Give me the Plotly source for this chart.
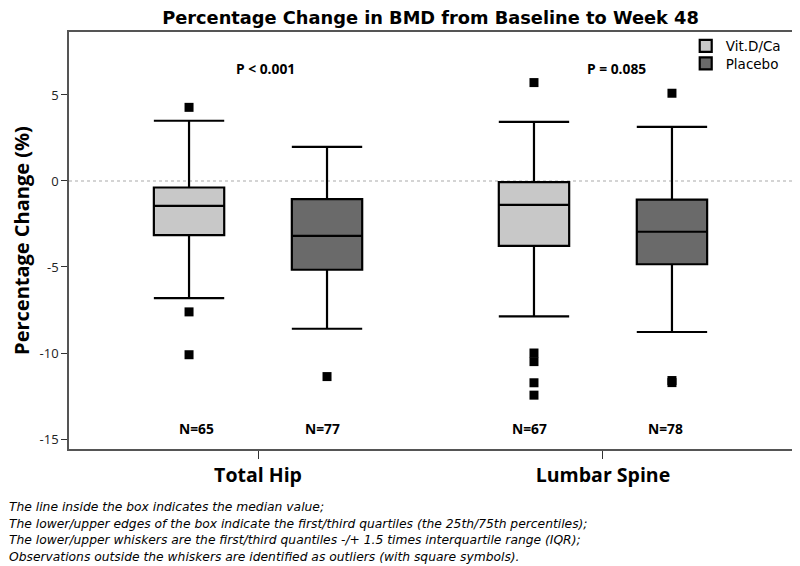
import plotly.graph_objects as go

# ---- data ----
sites = ["Total Hip", "Lumbar Spine"]
groups = ["Vit.D/Ca", "Placebo"]

vit_q1 = [-3.15, -3.77]
vit_median = [-1.45, -1.39]
vit_q3 = [-0.38, -0.07]
vit_lower = [-6.81, -7.87]
vit_upper = [3.50, 3.44]

pla_q1 = [-5.16, -4.84]
pla_median = [-3.19, -2.95]
pla_q3 = [-1.06, -1.08]
pla_lower = [-8.59, -8.78]
pla_upper = [1.98, 3.15]

vit_out_site = ["Total Hip", "Total Hip", "Total Hip",
                "Lumbar Spine", "Lumbar Spine", "Lumbar Spine", "Lumbar Spine", "Lumbar Spine"]
vit_out_val = [4.28, -7.61, -10.1, 5.72, -10.0, -10.5, -11.73, -12.45]
pla_out_site = ["Total Hip", "Lumbar Spine", "Lumbar Spine", "Lumbar Spine"]
pla_out_val = [-11.37, 5.10, -11.6, -11.72]

n_vit = [65, 67]
n_pla = [77, 78]
p_values = ["P < 0.001", "P = 0.085"]

tick_vals = [5, 0, -5, -10, -15]
tick_text = ["5", "0", "-5", "-10", "-15"]

footnote_lines = [
    "The line inside the box indicates the median value;",
    "The lower/upper edges of the box indicate the first/third quartiles (the 25th/75th percentiles);",
    "The lower/upper whiskers are the first/third quantiles -/+ 1.5 times interquartile range (IQR);",
    "Observations outside the whiskers are identified as outliers (with square symbols).",
]

# ---- styles ----
vit_color = "#c8c8c8"
pla_color = "#6a6a6a"
font = "Open Sans, Verdana, DejaVu Sans, sans-serif"
wide = "DejaVu Sans, Verdana, sans-serif"

fig = go.Figure()
fig.add_trace(go.Box(
    name=groups[0], x=sites, q1=vit_q1, median=vit_median, q3=vit_q3,
    lowerfence=vit_lower, upperfence=vit_upper,
    fillcolor=vit_color, line=dict(color="black", width=2.2),
    whiskerwidth=1, offsetgroup="a", boxpoints=False, legend="legend",
))
fig.add_trace(go.Box(
    name=groups[1], x=sites, q1=pla_q1, median=pla_median, q3=pla_q3,
    lowerfence=pla_lower, upperfence=pla_upper,
    fillcolor=pla_color, line=dict(color="black", width=2.2),
    whiskerwidth=1, offsetgroup="b", boxpoints=False, legend="legend2",
))
fig.add_trace(go.Scatter(
    x=vit_out_site, y=vit_out_val, mode="markers", offsetgroup="a",
    marker=dict(symbol="square", size=9, color="black"), showlegend=False,
))
fig.add_trace(go.Scatter(
    x=pla_out_site, y=pla_out_val, mode="markers", offsetgroup="b",
    marker=dict(symbol="square", size=9, color="black"), showlegend=False,
))

# zero reference line
fig.add_shape(type="line", xref="paper", x0=0, x1=1, yref="y", y0=0, y1=0,
              line=dict(color="#aaaaaa", width=1.2, dash="dot"), layer="below")

annotations = []
n_offsets = [(-0.177, 0.188), (-0.212, 0.180)]
p_offsets = [0.023, 0.04]
lab_font = dict(family=font, size=13.8, color="black", weight="bold")
for i, s in enumerate(sites):
    annotations.append(dict(x=i + n_offsets[i][0], y=-14.36, xref="x", yref="y", text=f"N={n_vit[i]}",
                            showarrow=False, font=lab_font))
    annotations.append(dict(x=i + n_offsets[i][1], y=-14.36, xref="x", yref="y", text=f"N={n_pla[i]}",
                            showarrow=False, font=lab_font))
    annotations.append(dict(x=i + p_offsets[i], y=6.51, xref="x", yref="y", text=p_values[i],
                            showarrow=False, font=lab_font))

# y axis title
annotations.append(dict(x=0, y=0.499, xref="paper", yref="paper", xshift=-47, text="Percentage Change (%)",
                        textangle=-90, showarrow=False, xanchor="center", yanchor="middle",
                        font=dict(family=font, size=20, color="black", weight="bold")))

# footnote, one annotation per line for exact line spacing
for k, line in enumerate(footnote_lines):
    annotations.append(dict(x=0, y=0, xref="paper", yref="paper", xanchor="left", yanchor="middle",
                            xshift=-62, yshift=-58 - 16.7 * k, text=line, align="left", showarrow=False,
                            font=dict(family=wide, size=12.3, color="black", style="italic")))

leg_font = dict(family=wide, size=13.5, color="black")
fig.update_layout(
    width=800, height=566,
    margin=dict(l=61, r=16, t=24, b=125, autoexpand=False),
    paper_bgcolor="white", plot_bgcolor="white",
    boxmode="group", boxgap=0.2, boxgroupgap=0.49,
    scattermode="group", scattergap=0.2,
    title=dict(text="Percentage Change in BMD from Baseline to Week 48", x=0.5, xref="paper",
               y=1, yanchor="top", pad=dict(t=4),
               font=dict(family=wide, size=17.8, color="black", weight="bold")),
    legend=dict(x=0.853, y=0.966, xanchor="left", yanchor="middle", bgcolor="rgba(0,0,0,0)",
                font=leg_font, itemwidth=30),
    legend2=dict(x=0.853, y=0.924, xanchor="left", yanchor="middle", bgcolor="rgba(0,0,0,0)",
                 font=leg_font, itemwidth=30),
    showlegend=True,
    annotations=annotations,
    xaxis=dict(type="category", range=[-0.548, 1.548], showline=True, linecolor="#555555", linewidth=1.5,
               mirror=True, ticks="outside", ticklen=8, tickcolor="#333333", showgrid=False,
               automargin=False,
               tickfont=dict(family=font, size=19.5, color="black", weight="bold")),
    yaxis=dict(range=[-15.58, 8.66], tickvals=tick_vals, ticktext=tick_text, showline=True,
               linecolor="#555555", linewidth=1.5, automargin=False,
               mirror=True, ticks="outside", ticklen=6, tickcolor="#333333", showgrid=False, zeroline=False,
               tickfont=dict(family=font, size=13, color="#222222")),
)

fig.write_html("out.html")
